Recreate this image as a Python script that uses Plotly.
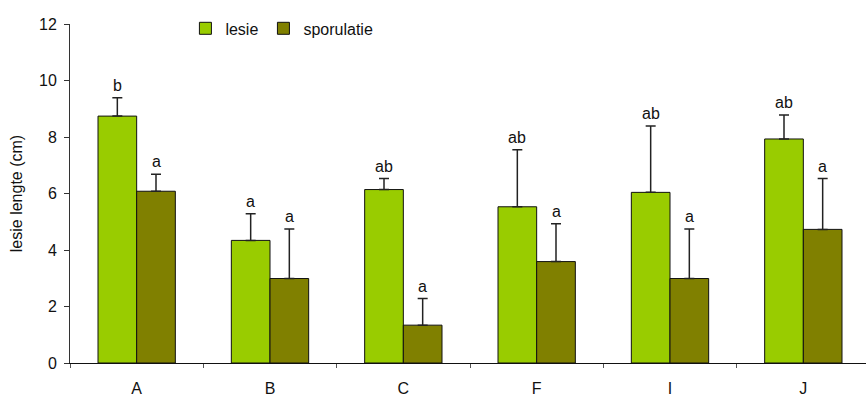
import plotly.graph_objects as go

categories = ["A", "B", "C", "F", "I", "J"]
lesie = [8.74, 4.34, 6.14, 5.53, 6.04, 7.93]
lesie_err = [0.65, 0.94, 0.39, 2.02, 2.35, 0.85]
sporulatie = [6.08, 2.99, 1.34, 3.59, 2.99, 4.73]
sporulatie_err = [0.60, 1.75, 0.94, 1.34, 1.75, 1.80]
lesie_letters = ["b", "a", "ab", "ab", "ab", "ab"]
sporulatie_letters = ["a", "a", "a", "a", "a", "a"]

FONT = "Liberation Sans, Arial, sans-serif"
FS = 16

fig = go.Figure()
fig.add_trace(go.Bar(
    name="lesie", x=categories, y=lesie, legend="legend",
    marker=dict(color="#99CC00", line=dict(color="#111111", width=1)),
    error_y=dict(type="data", array=lesie_err, arrayminus=[0]*len(lesie_err),
                 symmetric=False, color="#222222", thickness=1.5, width=5),
))
fig.add_trace(go.Bar(
    name="sporulatie", x=categories, y=sporulatie, legend="legend2",
    marker=dict(color="#808000", line=dict(color="#111111", width=1)),
    error_y=dict(type="data", array=sporulatie_err, arrayminus=[0]*len(sporulatie_err),
                 symmetric=False, color="#222222", thickness=1.5, width=5),
))

annotations = []
for i, c in enumerate(categories):
    annotations.append(dict(x=c, y=lesie[i] + lesie_err[i], text=lesie_letters[i],
                            xref="x", yref="y", showarrow=False, yanchor="bottom",
                            xshift=-19.5, yshift=2, font=dict(size=FS, color="#111111", family=FONT)))
    annotations.append(dict(x=c, y=sporulatie[i] + sporulatie_err[i], text=sporulatie_letters[i],
                            xref="x", yref="y", showarrow=False, yanchor="bottom",
                            xshift=19.5, yshift=2, font=dict(size=FS, color="#111111", family=FONT)))

legend_common = dict(orientation="h", y=0.987, xanchor="left", yanchor="middle",
                     font=dict(size=FS, family=FONT), bgcolor="rgba(0,0,0,0)",
                     itemwidth=30)

fig.update_layout(
    width=866, height=397,
    margin=dict(l=70, r=0, t=24, b=34),
    paper_bgcolor="white", plot_bgcolor="white",
    barmode="group", bargap=0.42, bargroupgap=0,
    font=dict(family=FONT, size=FS, color="#111111"),
    showlegend=True,
    legend=dict(x=0.145, **legend_common),
    legend2=dict(x=0.243, **legend_common),
    annotations=annotations,
    xaxis=dict(range=[-0.5, 5.47], showline=True, linecolor="#111111", linewidth=1,
               ticks="outside", tickson="boundaries", ticklen=4, tickcolor="#555555",
               showgrid=False, zeroline=False, tickfont=dict(size=FS), ticklabelstandoff=11),
    yaxis=dict(range=[0, 12], dtick=2, showline=True, linecolor="#333333", linewidth=1,
               ticks="outside", ticklen=5, tickcolor="#333333", showgrid=False, zeroline=False,
               tickfont=dict(size=FS), ticklabelstandoff=4,
               title=dict(text="lesie lengte (cm)", font=dict(size=FS), standoff=12)),
)

fig.write_html("out.html", config={"displayModeBar": False},
               post_script="document.body.style.margin='0';document.body.style.overflow='hidden';")
